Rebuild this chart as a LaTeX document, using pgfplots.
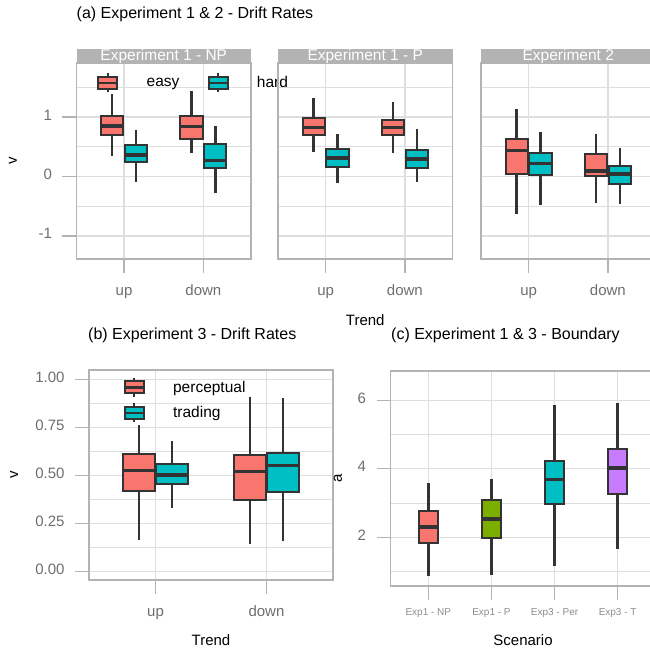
\documentclass[border=0pt]{standalone}
\usepackage{fontspec}
\setmainfont{Liberation Sans}
\usepackage{pgfplots}
\pgfplotsset{compat=1.18}
\usepgfplotslibrary{statistics}

\definecolor{gred}{HTML}{F8766D}
\definecolor{gcyan}{HTML}{00BFC4}
\definecolor{ggreen}{HTML}{7CAE00}
\definecolor{gpurple}{HTML}{C77CFF}
\definecolor{boxline}{HTML}{333333}
\definecolor{bordercol}{HTML}{B3B3B3}
\definecolor{gridcol}{HTML}{DEDEDE}
\definecolor{ticklab}{HTML}{6E6E6E}

\newcommand{\fs}[1]{\fontsize{#1}{#1}\selectfont}

\pgfplotsset{
  gg/.style={
    scale only axis,
    axis line style={bordercol, line width=1.5pt},
    xmajorgrids, ymajorgrids, yminorgrids,
    major grid style={gridcol, line width=1.3pt},
    minor grid style={gridcol, line width=0.9pt},
    tick style={bordercol, line width=1.3pt},
    major tick length=14pt,
    minor tick length=0pt,
    tick align=outside,
    tick pos=left,
    typeset ticklabels with strut,
    tick label style={font=\fs{15}, text=ticklab},
    yticklabel style={xshift=-7pt},
    xticklabel style={yshift=-8pt},
    label style={font=\fs{15}},
    every axis title shift=0pt,
    title style={font=\fs{16}, anchor=west, inner sep=0pt},
    clip=false,
  },
  ggbox/.style={
    forget plot, solid, mark=none,
    draw=boxline, fill=#1, line width=2pt,
    boxplot/draw direction=y,
    boxplot/whisker extend=0,
    boxplot/every median/.style={line width=3.5pt},
    boxplot/every whisker/.style={line width=2.6pt},
  },
  keyred/.style={legend image code/.code={
    \draw[boxline,line width=2pt] (9.5pt,-9.5pt) -- (9.5pt,9.5pt);
    \filldraw[fill=gred,draw=boxline,line width=2pt] (0pt,-6pt) rectangle (19pt,6pt);
    \draw[boxline,line width=2.5pt] (0pt,0pt) -- (19pt,0pt);}},
  keycyan/.style={legend image code/.code={
    \draw[boxline,line width=2pt] (9.5pt,-9.5pt) -- (9.5pt,9.5pt);
    \filldraw[fill=gcyan,draw=boxline,line width=2pt] (0pt,-6pt) rectangle (19pt,6pt);
    \draw[boxline,line width=2.5pt] (0pt,0pt) -- (19pt,0pt);}},
  facet/.style={
    gg, width=174.5pt, height=196pt,
    xmin=0.4, xmax=2.6, ymin=-1.387, ymax=1.908,
    xtick={1,2}, xticklabels={up,down},
    ytick={-1,0,1}, yticklabels={-1,0,1},
    minor ytick={-0.5,0.5,1.5},
  },
}
% colour, position, box width, lower whisker, lower quartile, median, upper quartile, upper whisker
\newcommand{\bx}[8]{\addplot[ggbox=#1, boxplot prepared={draw position=#2, box extend=#3,
  lower whisker=#4, lower quartile=#5, median=#6, upper quartile=#7, upper whisker=#8}] coordinates {};}

\begin{document}
\begin{tikzpicture}
\path[use as bounding box] (0pt,0pt) rectangle (650pt,648pt);

% ---------- (a) facet 1 ----------
\begin{axis}[facet, name=f1, at={(76.5pt,389pt)}, anchor=south west,
  ylabel={v}, ylabel style={at={(axis description cs:-0.364,0.5)}, anchor=center, rotate=0},
  title={(a) Experiment 1 \& 2 - Drift Rates},
  title style={at={(axis description cs:0,1.25)}},
  legend style={draw=none, fill=none, at={(axis description cs:0.1175,0.898)}, anchor=west,
    legend columns=2, inner sep=0pt, column sep=28pt, nodes={inner sep=0pt},
    cells={anchor=west}, font=\fs{15.5}},
]
\addlegendimage{keyred}\addlegendentry{easy}
\addlegendimage{keycyan}\addlegendentry{hard}
\bx{gred}{0.85}{0.28}{0.35}{0.69}{0.85}{1.01}{1.38}
\bx{gcyan}{1.15}{0.28}{-0.09}{0.24}{0.36}{0.53}{0.78}
\bx{gred}{1.85}{0.28}{0.39}{0.63}{0.84}{1.02}{1.43}
\bx{gcyan}{2.15}{0.28}{-0.27}{0.15}{0.27}{0.54}{0.85}
\end{axis}

% ---------- (a) facet 2 ----------
\begin{axis}[facet, name=f2, at={(278pt,389pt)}, anchor=south west,
  yticklabels={}, ytick style={draw=none},
  xlabel={Trend}, xlabel style={at={(axis description cs:0.5,-0.311)}, anchor=center},
]
\bx{gred}{0.85}{0.28}{0.41}{0.69}{0.82}{0.98}{1.32}
\bx{gcyan}{1.15}{0.28}{-0.11}{0.16}{0.31}{0.47}{0.71}
\bx{gred}{1.85}{0.28}{0.40}{0.69}{0.82}{0.95}{1.25}
\bx{gcyan}{2.15}{0.28}{-0.10}{0.15}{0.29}{0.44}{0.80}
\end{axis}

% ---------- (a) facet 3 ----------
\begin{axis}[facet, name=f3, at={(481pt,389pt)}, anchor=south west,
  yticklabels={}, ytick style={draw=none},
]
\bx{gred}{0.85}{0.28}{-0.63}{0.04}{0.44}{0.63}{1.13}
\bx{gcyan}{1.15}{0.28}{-0.48}{0.02}{0.22}{0.40}{0.75}
\bx{gred}{1.85}{0.28}{-0.45}{0.00}{0.09}{0.38}{0.72}
\bx{gcyan}{2.15}{0.28}{-0.47}{-0.12}{0.04}{0.17}{0.48}
\end{axis}

% strips
\foreach \f/\t in {f1/{Experiment 1 - NP}, f2/{Experiment 1 - P}, f3/{Experiment 2}}{
  \fill[bordercol] (\f.north west) rectangle ([yshift=14pt]\f.north east);
  \begin{scope}
    \clip (\f.north west) rectangle ([yshift=14pt]\f.north east);
    \node[anchor=base, inner sep=0pt, text=white, font=\fs{15.5}] at ([yshift=2pt]\f.north) {\t};
  \end{scope}
}

% ---------- (b) ----------
\begin{axis}[gg, name=pb, at={(89pt,68pt)}, anchor=south west,
  width=244pt, height=210pt,
  xmin=0.4, xmax=2.6, ymin=-0.043, ymax=1.048,
  xtick={1,2}, xticklabels={up,down},
  ytick={0,0.25,0.5,0.75,1}, yticklabels={0.00,0.25,0.50,0.75,1.00},
  minor ytick={0.125,0.375,0.625,0.875},
  ylabel={v}, ylabel style={at={(axis description cs:-0.307,0.5)}, anchor=center, rotate=0},
  xlabel={Trend}, xlabel style={at={(axis description cs:0.5,-0.286)}, anchor=center},
  title={(b) Experiment 3 - Drift Rates},
  title style={at={(axis description cs:-0.004,1.167)}},
  legend style={draw=none, fill=none, at={(axis description cs:0.141,0.968)}, anchor=north west,
    legend columns=1, inner sep=0pt, column sep=28pt, row sep=4.4pt, nodes={inner sep=0pt},
    cells={anchor=west}, font=\fs{15.5}},
]
\addlegendimage{keyred}\addlegendentry{perceptual}
\addlegendimage{keycyan}\addlegendentry{trading}
\bx{gred}{0.85}{0.29}{0.165}{0.421}{0.525}{0.61}{0.763}
\bx{gcyan}{1.15}{0.29}{0.329}{0.456}{0.503}{0.558}{0.681}
\bx{gred}{1.85}{0.29}{0.142}{0.371}{0.52}{0.607}{0.91}
\bx{gcyan}{2.15}{0.29}{0.161}{0.412}{0.553}{0.615}{0.90}
\end{axis}

% ---------- (c) ----------
\begin{axis}[gg, name=pc, at={(390.5pt,62pt)}, anchor=south west,
  width=265pt, height=215pt,
  xmin=0.4, xmax=4.6, ymin=0.58, ymax=6.85,
  xtick={1,2,3,4}, xticklabels={Exp1 - NP,Exp1 - P,Exp3 - Per,Exp3 - T},
  xticklabel style={font=\fs{10}, text=ticklab!80, yshift=3pt},
  ytick={2,4,6}, yticklabels={2,4,6},
  minor ytick={1,3,5},
  ylabel={a}, ylabel style={at={(axis description cs:-0.198,0.5)}, anchor=center, rotate=0},
  xlabel={Scenario}, xlabel style={at={(axis description cs:0.5,-0.251)}, anchor=center},
  title={(c) Experiment 1 \& 3 - Boundary},
  title style={at={(axis description cs:0.002,1.167)}},
]
\bx{gred}{1}{0.3}{0.86}{1.83}{2.30}{2.76}{3.57}
\bx{ggreen}{2}{0.3}{0.91}{1.99}{2.54}{3.08}{3.71}
\bx{gcyan}{3}{0.3}{1.16}{2.96}{3.68}{4.23}{5.87}
\bx{gpurple}{4}{0.3}{1.66}{3.27}{4.02}{4.57}{5.92}
\end{axis}
\end{tikzpicture}
\end{document}
